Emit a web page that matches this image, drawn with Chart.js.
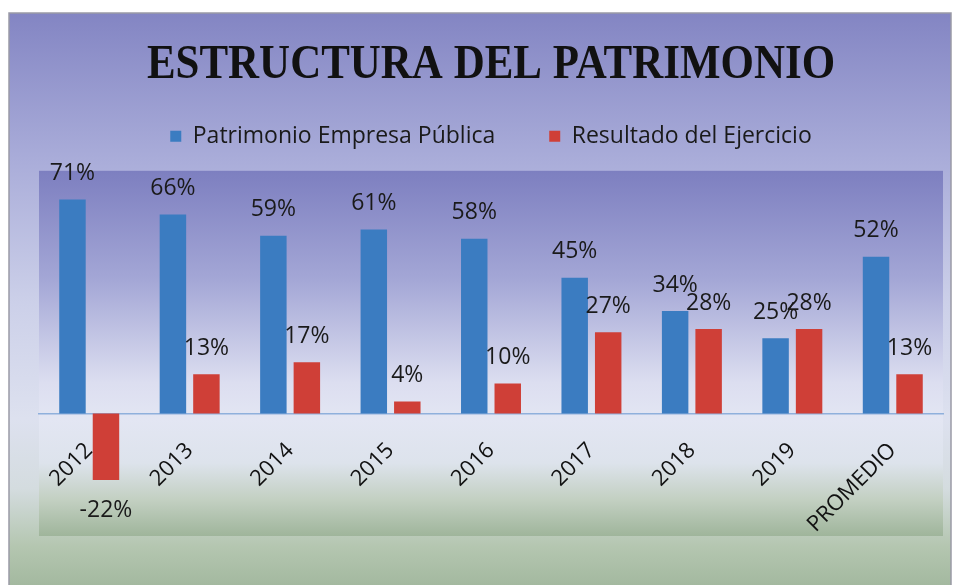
<!DOCTYPE html>
<html>
<head>
<meta charset="utf-8">
<style>
  html, body { margin: 0; padding: 0; background: #ffffff; }
  #c { display: block; width: 960px; height: 585px; }
</style>
<script src="https://cdn.jsdelivr.net/npm/chart.js@4"></script>
</head>
<body>
<canvas id="c" width="960" height="585"></canvas>
<script>
// ---- data ----
const categories = ['2012', '2013', '2014', '2015', '2016', '2017', '2018', '2019', 'PROMEDIO'];
const patrimonio = [71, 66, 59, 61, 58, 45, 34, 25, 52];
const resultado = [-22, 13, 17, 4, 10, 27, 28, 28, 13];
const seriesNames = ['Patrimonio Empresa Pública', 'Resultado del Ejercicio'];
const titleText = 'ESTRUCTURA DEL PATRIMONIO';

// ---- plugins ----
const backgroundPlugin = {
  id: 'bgPlugin',
  beforeDraw(chart) {
    const ctx = chart.ctx;
    const W = chart.width, H = chart.height;
    ctx.save();
    ctx.fillStyle = '#ffffff';
    ctx.fillRect(0, 0, W, H);
    // outer frame
    const fx = 9, fy = 13, fw = 942, fh = 580;
    const g = ctx.createLinearGradient(0, fy, 0, fy + fh);
    g.addColorStop(0, '#8385c3');
    g.addColorStop(0.25, '#a9acd9');
    g.addColorStop(0.5, '#ccd0e9');
    g.addColorStop(0.7, '#dde1ef');
    g.addColorStop(0.82, '#d4dcdf');
    g.addColorStop(0.92, '#b4c6b0');
    g.addColorStop(1, '#a0b69c');
    ctx.fillStyle = g;
    ctx.fillRect(fx, fy, fw, fh);
    ctx.strokeStyle = '#9a9aa6';
    ctx.lineWidth = 1.5;
    ctx.strokeRect(fx, fy, fw, fh);
    // plot area
    const a = chart.chartArea;
    const pg = ctx.createLinearGradient(0, a.top, 0, a.bottom);
    pg.addColorStop(0, '#7d7fc0');
    pg.addColorStop(0.3, '#a4a7d6');
    pg.addColorStop(0.58, '#dcdef0');
    pg.addColorStop(0.68, '#e3e6f3');
    pg.addColorStop(0.8, '#dde3ec');
    pg.addColorStop(0.9, '#c3d0c2');
    pg.addColorStop(1, '#9fb59b');
    ctx.fillStyle = pg;
    ctx.fillRect(a.left, a.top, a.right - a.left, a.bottom - a.top);
    ctx.restore();
  }
};

const valueLabels = {
  id: 'valueLabels',
  afterDatasetsDraw(chart) {
    const ctx = chart.ctx;
    ctx.save();
    ctx.font = '23px "Open Sans"';
    ctx.fillStyle = '#1a1a1a';
    ctx.textAlign = 'center';
    ctx.textBaseline = 'middle';
    chart.data.datasets.forEach((ds, di) => {
      const meta = chart.getDatasetMeta(di);
      meta.data.forEach((bar, i) => {
        const v = ds.data[i];
        const y = v >= 0 ? bar.y - 26 : bar.y + 31;
        ctx.fillText(v + '%', bar.x, y);
      });
    });
    ctx.restore();
  }
};

const blockTweaks = {
  id: 'blockTweaks',
  beforeInit(chart) {
    const lg = chart.legend;
    if (lg) {
      const origFit = lg.fit;
      lg.fit = function () { origFit.call(this); this.height += 13; };
    }
    const tb = chart.titleBlock;
    if (tb) {
      const origDraw = tb.draw;
      tb.draw = function () {
        const ctx = this.ctx;
        const cx = (this.left + this.right) / 2;
        ctx.save();
        ctx.translate(cx, 0);
        ctx.scale(0.895, 1);
        ctx.translate(-cx, 0);
        origDraw.call(this);
        ctx.restore();
      };
    }
  }
};

// ---- chart ----
new Chart(document.getElementById('c'), {
  type: 'bar',
  data: {
    labels: categories,
    datasets: [
      { label: seriesNames[0], data: patrimonio, backgroundColor: '#3b7cc1', categoryPercentage: 0.667, barPercentage: 0.79 },
      { label: seriesNames[1], data: resultado, backgroundColor: '#cf3f37', categoryPercentage: 0.667, barPercentage: 0.79 }
    ]
  },
  options: {
    responsive: false,
    devicePixelRatio: 1,
    animation: false,
    layout: { padding: { top: 0, left: 39, right: 17, bottom: 49 } },
    plugins: {
      title: {
        display: true,
        text: titleText,
        color: '#111111',
        font: { family: '"Liberation Serif", serif', size: 48, weight: 'bold', lineHeight: 0.1 },
        padding: { top: 63, bottom: 3 }
      },
      legend: {
        display: true,
        labels: {
          boxWidth: 11, boxHeight: 11, padding: 54,
          color: '#1a1a1a',
          font: { family: '"Open Sans"', size: 23 }
        }
      },
      tooltip: { enabled: false }
    },
    scales: {
      x: {
        position: { y: 0 },
        grid: { display: false, drawTicks: false },
        border: { display: true, color: '#8fb0dc', width: 1.5 },
        ticks: {
          autoSkip: false, maxRotation: 45, minRotation: 45, padding: 24,
          color: '#111111',
          font: { family: '"Open Sans"', size: 22 }
        },
        afterFit(scale) { scale.height = 0; }
      },
      y: {
        display: false,
        min: -40.6,
        max: 80.5
      }
    }
  },
  plugins: [backgroundPlugin, valueLabels, blockTweaks]
});
</script>
</body>
</html>
